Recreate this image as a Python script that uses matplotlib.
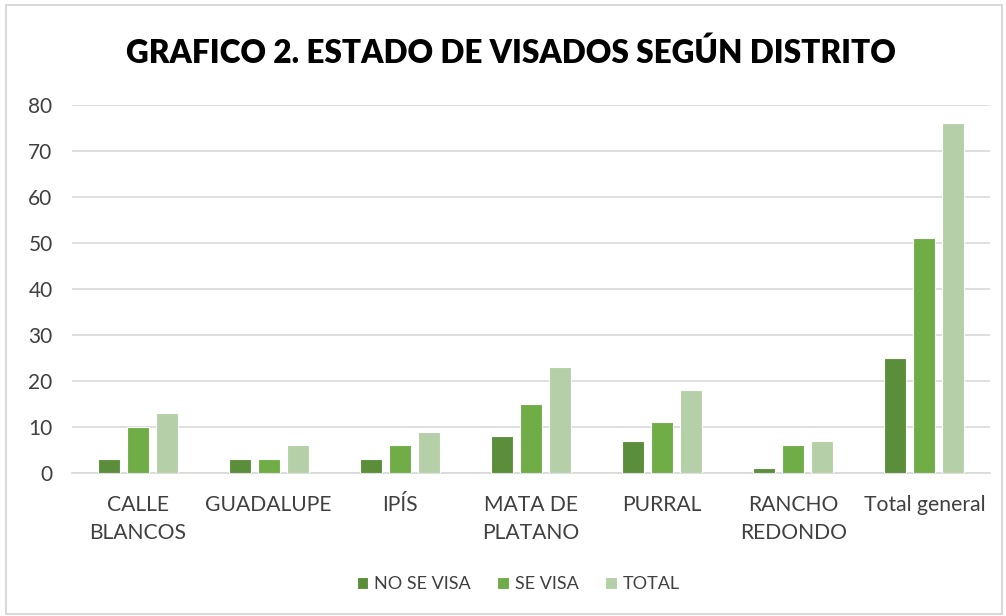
import matplotlib.pyplot as plt
import numpy as np
from matplotlib.patches import Rectangle

categories = ['CALLE\nBLANCOS', 'GUADALUPE', 'IPÍS', 'MATA DE\nPLATANO', 'PURRAL',
              'RANCHO\nREDONDO', 'Total general']
no_se_visa = [3, 3, 3, 8, 7, 1, 25]
se_visa = [10, 3, 6, 15, 11, 6, 51]
total = [13, 6, 9, 23, 18, 7, 76]
series_names = ['NO SE VISA', 'SE VISA', 'TOTAL']
colors = ['#5B8E3A', '#70AD47', '#B5D0A8']

plt.rcParams['font.family'] = ['Lato', 'DejaVu Sans']

fig = plt.figure(figsize=(10.06, 6.16), dpi=100)
fig.patches.append(Rectangle((0.006, 0.004), 0.99, 0.988, transform=fig.transFigure,
                             fill=False, edgecolor='#D9D9D9', linewidth=1.5))
ax = fig.add_axes([0.0716, 0.232, 0.9124, 0.598])

x = np.arange(len(categories))
w = 0.168
step = 0.221
for i, (vals, name) in enumerate(zip([no_se_visa, se_visa, total], series_names)):
    ax.bar(x + (i - 1) * step, vals, width=w, color=colors[i], label=name,
           edgecolor='white', linewidth=0.8, zorder=3)

ax.set_xlim(-0.5, len(categories) - 0.5)
ax.set_ylim(0, 80)
ax.set_yticks(range(0, 81, 10))
ax.yaxis.grid(True, color='#D9D9D9', linewidth=1.2, zorder=0)
ax.set_xticks(x)
ax.set_xticklabels(categories, fontsize=15.2, color='#404040', linespacing=1.45)
ax.tick_params(axis='y', labelsize=15, labelcolor='#404040', length=0, pad=14)
ax.tick_params(axis='x', length=0, pad=16)
for s in ['top', 'right', 'left']:
    ax.spines[s].set_visible(False)
ax.spines['bottom'].set_color('#D9D9D9')
ax.spines['bottom'].set_linewidth(1.2)

fig.text(0.508, 0.915, 'GRAFICO 2. ESTADO DE VISADOS SEGÚN DISTRITO', ha='center', va='center',
         fontsize=22.7, fontweight='heavy', color='black')

fig.legend(loc='center', bbox_to_anchor=(0.515, 0.052), ncol=3, frameon=False,
           fontsize=13, handlelength=0.65, handleheight=0.65, handletextpad=0.3,
           columnspacing=1.5, labelcolor='#404040')

fig.savefig('out.png', dpi=100)
